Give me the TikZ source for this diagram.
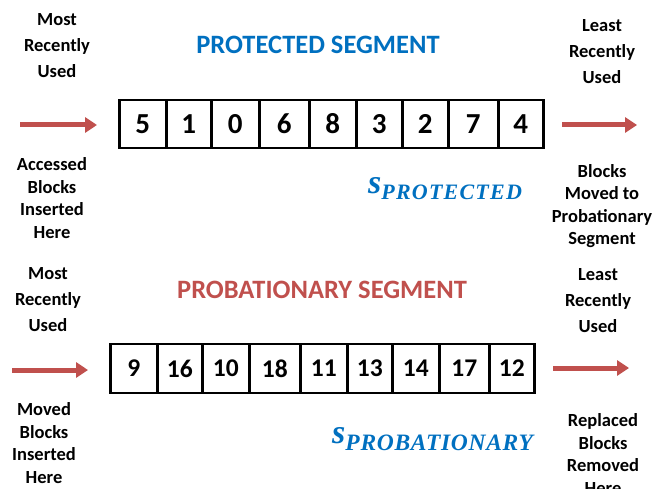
\documentclass[tikz,border=0pt]{standalone}
\usepackage{fontspec}
\setmainfont{Carlito}
\newfontfamily\subsfont{Liberation Serif}
\usetikzlibrary{arrows.meta}
\definecolor{segblue}{HTML}{0070C0}
\definecolor{segred}{HTML}{C0504D}
\begin{document}
\begin{tikzpicture}[x=1pt,y=-1pt,
  cellA/.style={draw, line width=2.6pt, minimum height=48pt, inner sep=0pt, anchor=west, font=\bfseries\fontsize{29}{29}\selectfont},
  cellB/.style={draw, line width=2.6pt, minimum height=49pt, inner sep=0pt, anchor=west, font=\bfseries\fontsize{25.5}{25.5}\selectfont},
  flow/.style={draw=segred, line width=5pt, -{Triangle[length=12pt,width=15pt]}},
  lbl/.style={font=\bfseries\fontsize{18.5}{26}\selectfont, align=center, inner sep=0pt},
  lblq/.style={font=\bfseries\fontsize{18.5}{22.5}\selectfont, align=center, inner sep=0pt},
  title/.style={font=\bfseries\fontsize{26.5}{27}\selectfont, inner sep=0pt},
  sizelbl/.style={text=segblue, anchor=base west, inner sep=0pt}]
\useasboundingbox (0,0) rectangle (652,489);
\clip (0,0) rectangle (652,489);
\fill[white] (0,0) rectangle (652,489);

% protected segment
\foreach \n/\a/\b/\dy [count=\i] in {5/118/165/0, 1/165/210/0, 0/210/258/0, 6/258/308/0, 8/308/355/0, 3/355/401/0, 2/401/447/0, 7/447/497/-2, 4/497/542/0} {
  \pgfmathsetmacro\w{\b-\a}
  \node[cellA, minimum width=\w pt] (p\i) at (\a,124) {\raisebox{\dy pt}{\n}};
}
% probationary segment
\foreach \n/\a/\b/\dy [count=\i] in {9/109/156/0, 16/156/201/0, 10/201/248/0, 18/248/299/0, 11/299/346/0, 13/346/391/0, 14/391/438/-3, 17/438/488/0, 12/488/533/0} {
  \pgfmathsetmacro\w{\b-\a}
  \node[cellB, minimum width=\w pt] (b\i) at (\a,368.5) {\raisebox{\dy pt}{\n}};
}

\node[title, text=segblue] (tprot) at (318,45) {PROTECTED SEGMENT};
\node[title, text=segred] (tprob) at (322,290) {PROBATIONARY SEGMENT};

\node[sizelbl] (sprot) at (368,193) {\subsfont\bfseries\itshape\fontsize{34}{34}\selectfont s\raisebox{-6pt}{\fontsize{22}{22}\selectfont\addfontfeature{LetterSpace=5.5}PROTECTED}};
\node[sizelbl] (sprob) at (332,443) {\subsfont\bfseries\itshape\fontsize{34}{34}\selectfont s\raisebox{-7pt}{\fontsize{23.5}{23.5}\selectfont\addfontfeature{LetterSpace=3}PROBATIONARY}};

% labels
\node[lbl] (mruT) at (57,46) {Most\\Recently\\Used};
\node[lblq] (accT) at (52,198) {Accessed\\Blocks\\Inserted\\Here};
\node[lbl] (lruT) at (602,52) {Least\\Recently\\Used};
\node[lblq] (movT) at (602,206) {Blocks\\Moved to\\Probationary\\Segment};
\node[lbl] (mruB) at (48,300) {Most\\Recently\\Used};
\node[lblq] (movB) at (44,443) {Moved\\Blocks\\Inserted\\Here};
\node[lbl] (lruB) at (598,301) {Least\\Recently\\Used};
\node[lblq] (repB) at (603,454) {Replaced\\Blocks\\Removed\\Here};

% arrows
\coordinate (tlA) at (20,125);
\coordinate (tlB) at (97,125);
\coordinate (trA) at (562,125);
\coordinate (trB) at (637,125);
\coordinate (blA) at (12,370);
\coordinate (blB) at (88,370);
\coordinate (brA) at (553,368);
\coordinate (brB) at (629,368);
\draw[flow] (tlA) -- (tlB);
\draw[flow] (trA) -- (trB);
\draw[flow] (blA) -- (blB);
\draw[flow] (brA) -- (brB);
\end{tikzpicture}
\end{document}
